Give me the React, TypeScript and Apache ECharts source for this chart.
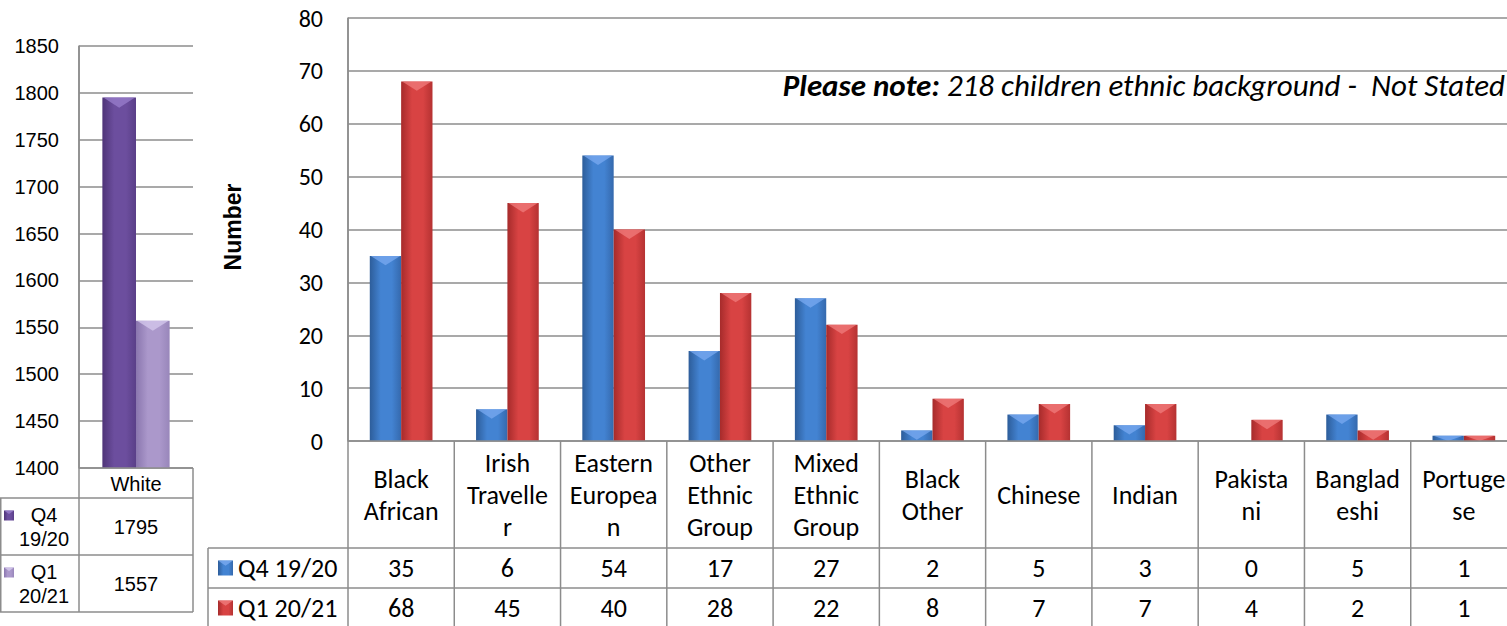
import React, { useEffect, useRef } from "react";
import * as echarts from "echarts";

// ---- data ----
const whiteCategory = ["White"];
const whiteQ4 = [1795];
const whiteQ1 = [1557];
const whiteRowLabels = ["Q4\n19/20", "Q1\n20/21"];

const groupLabels = [
  "Black\nAfrican",
  "Irish\nTravelle\nr",
  "Eastern\nEuropea\nn",
  "Other\nEthnic\nGroup",
  "Mixed\nEthnic\nGroup",
  "Black\nOther",
  "Chinese",
  "Indian",
  "Pakista\nni",
  "Banglad\neshi",
  "Portuge\nse",
];
const groupQ4 = [35, 6, 54, 17, 27, 2, 5, 3, 0, 5, 1];
const groupQ1 = [68, 45, 40, 28, 22, 8, 7, 7, 4, 2, 1];
const seriesNames = ["Q4 19/20", "Q1 20/21"];

const whiteAxis = { min: 1400, max: 1850, step: 50 };
const groupAxis = { min: 0, max: 80, step: 10 };

const noteBold = "Please note:";
const noteRest = " 218 children ethnic background -  Not Stated";
const yAxisTitle = "Number";

// ---- layout ----
const LG = { x: 79, y: 46, w: 114, h: 422 };
const RG = { x: 348, y: 18, w: 1169, h: 423 };
const LEFT_ROWS = [LG.y + LG.h, 498, 555, 612];
const RIGHT_ROWS = [RG.y + RG.h, 548, 588, 628];
const RIGHT_LEGEND_X = 208;
const BAR_FRAC = 0.295;

const GRID_COLOR = "#8c8c8c";
const ARIAL = "'Liberation Sans', Arial, sans-serif";
const CAL = "Carlito, Calibri, Lato, sans-serif";
const LEFT_SIZE = 20;
const TABLE_SIZE = 26;
const NOTE_SIZE = 31;

const palette = {
  blue: { edge: "#2d5d9a", mid: "#4383d2", right: "#3569ad", top: "#7aaaf0" },
  red: { edge: "#a62b2b", mid: "#d84343", right: "#b53232", top: "#f07c7c" },
  purple: { edge: "#4f3478", mid: "#6c4e9e", right: "#5a3f88", top: "#9a7fcc" },
  lilac: { edge: "#8a76ae", mid: "#ab98cb", right: "#9886ba", top: "#d6caee" },
};
type Pal = typeof palette.blue;

function fillOf(p: Pal) {
  return new echarts.graphic.LinearGradient(0, 0, 1, 0, [
    { offset: 0, color: p.edge },
    { offset: 0.35, color: p.mid },
    { offset: 0.7, color: p.mid },
    { offset: 1, color: p.right },
  ]);
}

// Bar with a horizontal shading and a bevelled top facet.
function bevelBar(p: Pal, slot: number, base: number) {
  return (_params: any, api: any) => {
    const idx = api.value(0);
    const v = api.value(1);
    const top = api.coord([idx, v]);
    const bot = api.coord([idx, base]);
    const band = api.size([1, 0])[0];
    const w = band * BAR_FRAC;
    const x = top[0] - w + slot * w;
    const h = bot[1] - top[1];
    if (h <= 0.5) return null;
    const d = Math.min(w * 0.3, h);
    return {
      type: "group",
      children: [
        { type: "rect", shape: { x, y: top[1], width: w, height: h }, style: { fill: fillOf(p) } },
        {
          type: "polygon",
          shape: { points: [[x + 1, top[1]], [x + w - 1, top[1]], [x + w / 2, top[1] + d]] },
          style: { fill: p.top, opacity: 0.75 },
        },
      ],
    };
  };
}

function marker(x: number, y: number, s: number, p: Pal) {
  return [
    { type: "rect", shape: { x, y, width: s, height: s }, style: { fill: fillOf(p) } },
    {
      type: "polygon",
      shape: { points: [[x, y], [x + s, y], [x + s / 2, y + s * 0.35]] },
      style: { fill: p.top, opacity: 0.8 },
    },
  ];
}

function hline(x1: number, x2: number, y: number) {
  return { type: "line", shape: { x1, y1: y, x2, y2: y }, style: { stroke: GRID_COLOR, lineWidth: 1.5 }, z: 5 };
}
function vline(x: number, y1: number, y2: number) {
  return { type: "line", shape: { x1: x, y1, x2: x, y2 }, style: { stroke: GRID_COLOR, lineWidth: 1.5 }, z: 5 };
}
function label(text: string, x: number, y: number, font: string, size: number, lh: number, align = "center") {
  return {
    type: "text",
    x,
    y,
    z: 6,
    style: { text, fontFamily: font, fontSize: size, lineHeight: lh, fill: "#000", align, verticalAlign: "middle" },
  };
}

function buildGraphics() {
  const g: any[] = [];
  // left data table
  const lRight = LG.x + LG.w;
  g.push(hline(LG.x, lRight, LEFT_ROWS[0]));
  for (let r = 1; r < LEFT_ROWS.length; r++) g.push(hline(0, lRight, LEFT_ROWS[r]));
  g.push(vline(0.75, LEFT_ROWS[1], LEFT_ROWS[3]));
  g.push(vline(LG.x, LG.y, LEFT_ROWS[3]));
  g.push(vline(lRight, LEFT_ROWS[0], LEFT_ROWS[3]));
  const lcx = LG.x + LG.w / 2;
  g.push(label(whiteCategory[0], lcx, (LEFT_ROWS[0] + LEFT_ROWS[1]) / 2 + 1, ARIAL, LEFT_SIZE, 22));
  const leftVals = [whiteQ4, whiteQ1];
  const leftPals = [palette.purple, palette.lilac];
  for (let s = 0; s < 2; s++) {
    const cy = (LEFT_ROWS[s + 1] + LEFT_ROWS[s + 2]) / 2;
    g.push(...marker(4, cy - 16, 10, leftPals[s]));
    g.push(label(whiteRowLabels[s], 44, cy, ARIAL, LEFT_SIZE, 24));
    g.push(label(String(leftVals[s][0]), lcx, cy, ARIAL, LEFT_SIZE, 22));
  }

  // right data table
  const rRight = RG.x + RG.w;
  g.push(hline(RG.x, rRight, RIGHT_ROWS[0]));
  for (let r = 1; r < RIGHT_ROWS.length; r++) g.push(hline(RIGHT_LEGEND_X, rRight, RIGHT_ROWS[r]));
  g.push(vline(RIGHT_LEGEND_X, RIGHT_ROWS[1], RIGHT_ROWS[3]));
  g.push(vline(RG.x, RG.y, RIGHT_ROWS[3]));
  const n = groupLabels.length;
  const cw = RG.w / n;
  for (let i = 1; i <= n; i++) g.push(vline(RG.x + i * cw, RIGHT_ROWS[0], RIGHT_ROWS[3]));
  const vals = [groupQ4, groupQ1];
  const pals = [palette.blue, palette.red];
  for (let i = 0; i < n; i++) {
    const cx = RG.x + (i + 0.5) * cw;
    g.push(label(groupLabels[i], cx, (RIGHT_ROWS[0] + RIGHT_ROWS[1]) / 2, CAL, TABLE_SIZE, 32));
    for (let s = 0; s < 2; s++) {
      g.push(label(String(vals[s][i]), cx, (RIGHT_ROWS[s + 1] + RIGHT_ROWS[s + 2]) / 2, CAL, TABLE_SIZE, 30));
    }
  }
  for (let s = 0; s < 2; s++) {
    const cy = (RIGHT_ROWS[s + 1] + RIGHT_ROWS[s + 2]) / 2;
    g.push(...marker(218, cy - 7.5, 15, pals[s]));
    g.push(label(seriesNames[s], 238, cy, CAL, TABLE_SIZE, 30, "left"));
  }

  // axis title and note
  g.push({
    type: "text",
    x: 233,
    y: 227,
    rotation: Math.PI / 2,
    z: 6,
    style: {
      text: yAxisTitle,
      fontFamily: ARIAL,
      fontWeight: "bold",
      fontSize: 23,
      fill: "#000",
      align: "center",
      verticalAlign: "middle",
    },
  });
  g.push({
    type: "text",
    x: 1505,
    y: 85,
    z: 6,
    style: {
      text: `{b|${noteBold}}${noteRest}`,
      fontFamily: CAL,
      fontStyle: "italic",
      fontSize: NOTE_SIZE,
      fill: "#000",
      align: "right",
      verticalAlign: "middle",
      rich: {
        b: { fontFamily: CAL, fontStyle: "italic", fontWeight: "bold", fontSize: NOTE_SIZE, fill: "#000" },
      },
    },
  });
  return g;
}

function valueAxis(gridIndex: number, ax: typeof whiteAxis, font: string, size: number, margin: number) {
  return {
    type: "value",
    gridIndex,
    min: ax.min,
    max: ax.max,
    interval: ax.step,
    axisLine: { show: true, lineStyle: { color: GRID_COLOR, width: 1.5 } },
    axisTick: { show: false },
    axisLabel: {
      fontFamily: font,
      fontSize: size,
      color: "#000",
      margin,
      formatter: (v: number) => String(v),
    },
    splitLine: { lineStyle: { color: GRID_COLOR, width: 1.5 } },
  };
}

function categoryAxis(gridIndex: number, data: string[]) {
  return {
    type: "category",
    gridIndex,
    data,
    axisLine: { show: false },
    axisTick: { show: false },
    axisLabel: { show: false },
    splitLine: { show: false },
  };
}

function customSeries(name: string, axisIndex: number, values: number[], pal: Pal, slot: number, base: number) {
  return {
    type: "custom",
    name,
    xAxisIndex: axisIndex,
    yAxisIndex: axisIndex,
    data: values.map((v, i) => [i, v]),
    encode: { x: 0, y: 1 },
    renderItem: bevelBar(pal, slot, base),
    z: 3,
  };
}

export default function App() {
  const ref = useRef<HTMLDivElement>(null);
  useEffect(() => {
    document.body.style.margin = "0";
    document.body.style.overflow = "hidden";
    document.documentElement.style.overflow = "hidden";
    if (!ref.current) return;
    const chart = echarts.init(ref.current, undefined, { renderer: "svg" });
    chart.setOption({
      animation: false,
      backgroundColor: "#ffffff",
      grid: [
        { left: LG.x, top: LG.y, width: LG.w, height: LG.h },
        { left: RG.x, top: RG.y, width: RG.w, height: RG.h },
      ],
      xAxis: [categoryAxis(0, whiteCategory), categoryAxis(1, groupLabels)],
      yAxis: [valueAxis(0, whiteAxis, ARIAL, LEFT_SIZE, 20), valueAxis(1, groupAxis, CAL, 24, 25)],
      series: [
        customSeries(seriesNames[0], 0, whiteQ4, palette.purple, 0, whiteAxis.min),
        customSeries(seriesNames[1], 0, whiteQ1, palette.lilac, 1, whiteAxis.min),
        customSeries(seriesNames[0], 1, groupQ4, palette.blue, 0, groupAxis.min),
        customSeries(seriesNames[1], 1, groupQ1, palette.red, 1, groupAxis.min),
      ],
      graphic: buildGraphics(),
    });
    return () => chart.dispose();
  }, []);
  return <div ref={ref} style={{ position: "absolute", left: 0, top: 0, width: 1520, height: 626 }} />;
}
